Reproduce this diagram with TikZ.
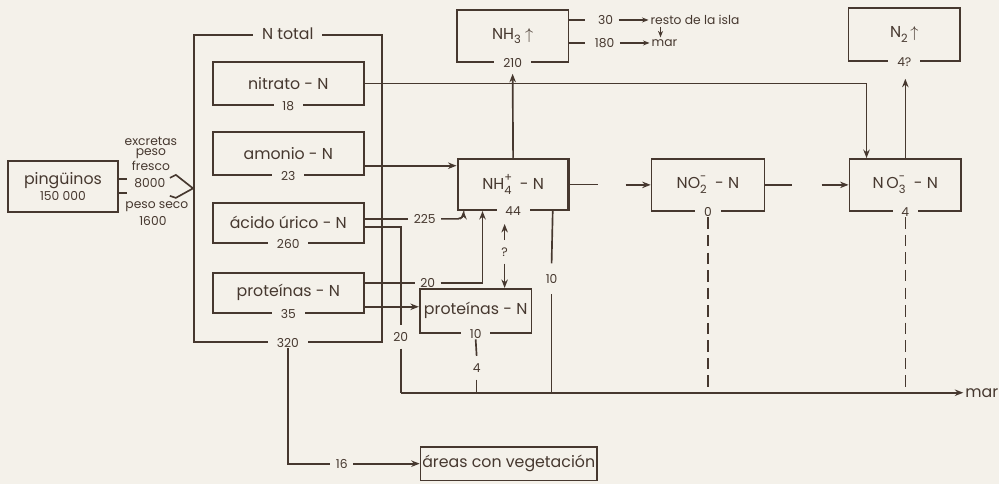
\documentclass[tikz,border=0pt]{standalone}
\usepackage{fontspec}
\setmainfont{Poppins}
\usetikzlibrary{arrows.meta,calc}
\definecolor{bg}{HTML}{F4F1EA}
\definecolor{ink}{HTML}{46382F}
\newcommand\chemion[2]{\makebox[0pt][l]{\raisebox{0.95ex}{\fontsize{6.5}{6}\selectfont #2}}\raisebox{-0.55ex}{\fontsize{6.5}{6}\selectfont #1}}
\newcommand\chemsub[1]{\raisebox{-0.55ex}{\fontsize{6.5}{6}\selectfont #1}}
\begin{document}
\begin{tikzpicture}[x=0.02cm,y=-0.02cm,
  every node/.style={text=ink},
  box/.style={draw=ink,line width=0.95pt,inner sep=1pt,font=\fontsize{9}{10}\selectfont},
  boldbox/.style={box,line width=1.3pt},
  num/.style={fill=bg,inner xsep=5pt,inner ysep=0.5pt,font=\fontsize{7}{8}\selectfont},
  big/.style={font=\fontsize{9}{10}\selectfont},
  sm/.style={inner xsep=3pt,inner ysep=1pt,font=\fontsize{7}{8}\selectfont},
  vsm/.style={inner xsep=1pt,inner ysep=4pt,font=\fontsize{7}{8}\selectfont},
  ln/.style={draw=ink,line width=0.95pt},
  arr/.style={ln,-{Stealth[length=1.7mm,width=1.3mm]}},
  sarr/.style={ln,line width=0.7pt,-{Stealth[length=1.3mm,width=1mm]}},
  dsh/.style={ln,dash pattern=on 6.5pt off 3.5pt}]
\fill[bg] (0,0) rectangle (1000,484);

% penguins
\node[box,minimum width=22mm,minimum height=10.2mm,align=center] (ping) at (63,186.5)
  {pingüinos\\[-1pt]{\fontsize{7}{8}\selectfont 150 000}};
\draw[ln] ($(ping.east)+(0,-7.5)$) -- ++(8,0);
\draw[ln] ($(ping.east)+(0,6.5)$) -- ++(8,0);
\node[sm] (ex1) at (151,141) {excretas};
\node[sm] (ex2) at (151,154) {peso};
\node[sm] (ex3) at (151,166) {fresco};
\node[sm] (ex4) at (150,183) {8000};
\node[sm] (ex5) at (157,207) {peso seco};
\node[sm] (ex6) at (153,221) {1600};

% N total
\node[box,minimum width=37.6mm,minimum height=61.4mm] (Ntot) at (288,188.5) {};
\node[num,big] (ntl) at (Ntot.north) {N total};
\node[num] (n320) at (Ntot.south) {320};
\draw[ln] (170,178) -- (176,175) -- (Ntot.west) -- (176,198) -- (170,196);

\node[box,minimum width=30.2mm,minimum height=8.6mm] (nit) at (288.5,83.5) {nitrato - N};
\node[num] (n18) at (nit.south) {18};
\node[box,minimum width=30.2mm,minimum height=8.6mm] (amo) at (288.5,153.5) {amonio - N};
\node[num] (n23) at (amo.south) {23};
\node[boldbox,minimum width=30.2mm,minimum height=8mm] (aci) at (288.5,223) {ácido úrico - N};
\node[num] (n260) at (aci.south) {260};
\node[box,minimum width=30.2mm,minimum height=8mm] (pro) at (288.5,293) {proteínas - N};
\node[num] (n35) at (pro.south) {35};

% upper boxes
\node[box,minimum width=22.4mm,minimum height=10.4mm] (NH3) at (513,36) {NH\chemsub{3}\ $\uparrow$};
\node[num] (n210) at (NH3.south) {210};
\node[box,minimum width=22.4mm,minimum height=10.6mm] (N2) at (905,34.5) {N\chemsub{2}\,$\uparrow$};
\node[num] (n42) at (N2.south) {4?};

% middle row
\node[boldbox,minimum width=22.2mm,minimum height=10.2mm] (NH4) at (513.5,184.5) {NH\chemion{4}{+}\ \ - N};
\node[num] (n44) at (NH4.south) {44};
\node[box,minimum width=22.6mm,minimum height=10.4mm] (NO2) at (708.5,185) {NO\chemion{2}{-}\ \ - N};
\node[num] (n0) at (NO2.south) {0};
\node[box,minimum width=22.4mm,minimum height=10.4mm] (NO3) at (906,185) {N\,O\chemion{3}{-}\ \ - N};
\node[num] (n4b) at (NO3.south) {4};

\node[box,minimum width=22.4mm,minimum height=8.8mm] (spro) at (476,311) {proteínas - N};
\node[num] (n10s) at (spro.south) {10};

\node[box,anchor=west,inner xsep=1pt,minimum height=6.8mm] (areas) at (420,464) {áreas con vegetación};

% NH3 outputs
\node[sm] (n30) at (606,20) {30};
\node[sm] (n180) at (605,43) {180};
\node[sm,anchor=west,inner xsep=1pt] (resto) at (649,20) {resto de la isla};
\node[sm,anchor=west,inner xsep=1pt] (mar2) at (650,43) {mar};
\draw[ln] (NH3.east |- n30) -- ++(16,0);
\draw[ln] (NH3.east |- n180) -- ++(16,0);
\draw[sarr] (n30.east) -- (resto.west);
\draw[sarr] (n180.east) -- (mar2.west);
\draw[sarr] ($(resto.south west)+(12,0)$) -- ($(mar2.north west)+(11,0)$);

% nitrato -> NO3
\coordinate (c868) at ($(NO3.north west)+(18,0)$);
\draw[arr] (nit.east) -| (c868);
% amonio -> NH4
\draw[arr] ($(amo.south east)+(0,-10)$) coordinate (a1) -- (a1 -| NH4.west);
% NH4 -> NH3
\draw[arr] (NH4.north) -- ($(NH3.south)+(0,11)$);
% NO3 -> N2
\draw[arr] (NO3.north) -- ($(N2.south)+(1,17)$);
% NH4 -> NO2 -> NO3 (broken)
\draw[ln] (NH4.east) -- ++(28,0);
\draw[arr] ($(NO2.west)+(-25,0)$) -- (NO2.west);
\draw[ln] (NO2.east) -- ++(27,0);
\draw[arr] ($(NO3.west)+(-27,0)$) -- (NO3.west);

% acido urico
\node[sm] (n225) at (425,219) {225};
\draw[ln] ($(aci.east)+(0,-4)$) -- (n225.west);
\draw[arr,rounded corners=3pt] (n225.east) -| ($(NH4.south west)+(7,0)$);
\node[vsm] (n20b) at (401,337) {20};
\draw[ln] ($(aci.east)+(0,4)$) -| (n20b.north);
\coordinate (marL) at (n20b.south |- 0,393);
\draw[ln] (n20b.south) -- (marL);

% proteinas
\node[sm] (n20a) at (428,283) {20};
\draw[ln] ($(pro.east)+(0,-10)$) -- (n20a.west);
\draw[arr] (n20a.east) -| ($(NH4.south west)+(26,0)$);
\draw[arr] ($(pro.east)+(0,14)$) coordinate (p2) -- (p2 -| spro.west);

% ? exchange
\node[vsm] (q) at (505,252) {?};
\draw[arr] (q.north) -- ($(NH4.south)+(-8.5,13)$);
\draw[arr] (q.south) -- (q.south |- spro.north);

% to sea
\node[big,anchor=west,inner sep=1pt] (mar) at (964,393) {mar};
\draw[arr] (marL) -- (mar.west);
\node[vsm,inner ysep=6pt] (n10) at (552,279) {10};
\draw[ln] ($(NH4.south east)+(-17,0)$) -- (n10.north);
\draw[ln] (n10.south) -- (n10.south |- marL);
\node[vsm] (n4) at (477,368) {4};
\draw[ln] (n10s.south) -- (n4.north);
\draw[ln] (n4.south) -- (n4.south |- marL);
\draw[dsh] (n0.south) -- (n0.south |- marL);
\draw[dsh] (n4b.south) -- (n4b.south |- marL);

% to vegetation
\node[sm] (n16) at (342,464) {16};
\draw[ln] (n320.south) |- (n16.west);
\draw[arr] (n16.east) -- (areas.west);
\end{tikzpicture}
\end{document}
